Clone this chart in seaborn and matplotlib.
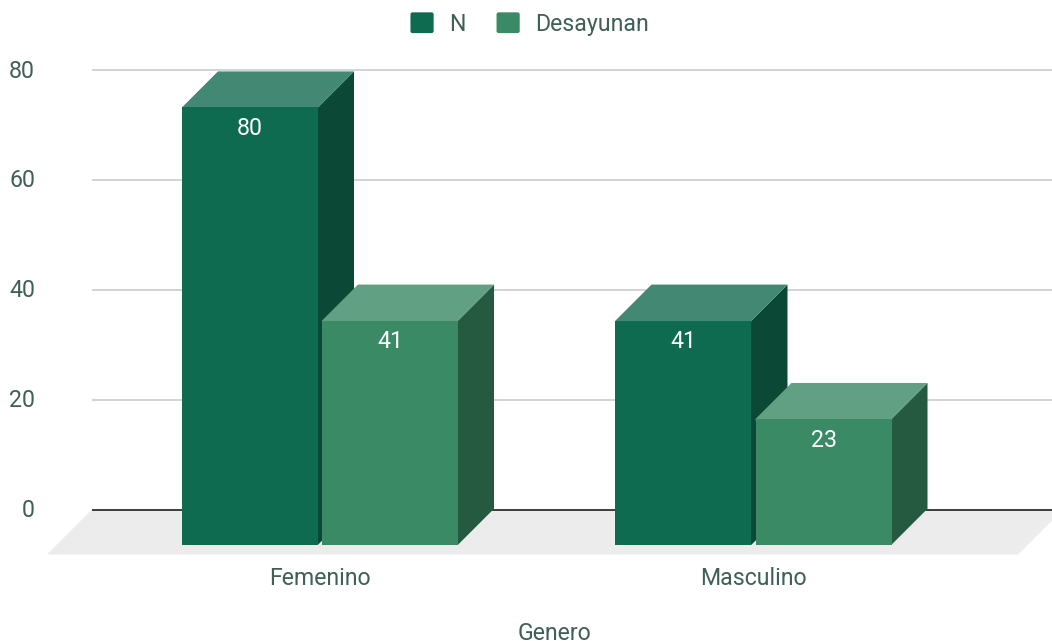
import matplotlib
matplotlib.use("Agg")
import matplotlib.pyplot as plt
import pandas as pd
import seaborn as sns
from matplotlib.legend_handler import HandlerPatch
from matplotlib.patches import FancyBboxPatch, Polygon
from matplotlib.transforms import ScaledTranslation

generos = ["Femenino", "Masculino"]
series_names = ["N", "Desayunan"]
n_values = [80, 41]
desayunan_values = [41, 23]
y_ticks = [0, 20, 40, 60, 80]
x_title = "Genero"

front_colors = ["#0F6B50", "#3A8A65"]
side_colors = ["#0B4836", "#265A40"]
top_colors = ["#428873", "#62A084"]
text_color = "#3F5F57"

W, H = 1052, 641
AX_L, AX_R, AX_T, AX_B = 92, 1052, 60, 560
Y0_PX, Y80_PX = 509.5, 70
CAT0_PX, CAT1_PX = 320, 753.5
DEPTH_PX = 36
DROP_PX = 35.2
FRONT_SCALE = 0.995
FS = 16.7

sns.set_theme(style="white")
plt.rcParams["font.family"] = ["Roboto", "DejaVu Sans"]

df = pd.DataFrame({
    "Genero": generos * 2,
    "Serie": [series_names[0]] * 2 + [series_names[1]] * 2,
    "Valor": n_values + desayunan_values,
})

fig = plt.figure(figsize=(W / 100, H / 100), dpi=100)
ax = fig.add_axes([AX_L / W, 1 - AX_B / H, (AX_R - AX_L) / W, (AX_B - AX_T) / H])

sns.barplot(
    data=df, x="Genero", y="Valor", hue="Serie", hue_order=series_names,
    palette=front_colors, width=0.646, gap=0.0286, saturation=1,
    linewidth=0, ax=ax,
)

px_per_cat = CAT1_PX - CAT0_PX
px_per_val = (Y0_PX - Y80_PX) / 80
ax.set_xlim((AX_L - CAT0_PX) / px_per_cat, (AX_R - CAT0_PX) / px_per_cat)
ax.set_ylim((Y0_PX - AX_B) / px_per_val, (Y0_PX - AX_T) / px_per_val)

dx = DEPTH_PX / px_per_cat
dy = DEPTH_PX / px_per_val
drop = DROP_PX / px_per_val
ex = 1.5 / px_per_cat
ey = 1.5 / px_per_val

for s, container in enumerate(ax.containers):
    z = 3 + s
    for bar in container:
        value = bar.get_height()
        bar.set_y(-drop)
        bar.set_height(value * FRONT_SCALE)
        bar.set_zorder(z + 0.2)
        x0, x1 = bar.get_x(), bar.get_x() + bar.get_width()
        y0, y1 = bar.get_y(), bar.get_y() + bar.get_height()
        # side and top run slightly under the front face so no seam shows
        ax.add_patch(Polygon([(x1 - ex, y0), (x1, y0), (x1 + dx, y0 + dy), (x1 + dx, y1 + dy),
                              (x1, y1), (x1 - ex, y1)],
                             closed=True, fc=side_colors[s], ec="none", zorder=z))
        ax.add_patch(Polygon([(x0, y1 - ey), (x0, y1), (x0 + dx, y1 + dy), (x1 + dx, y1 + dy),
                              (x1, y1), (x1, y1 - ey)],
                             closed=True, fc=top_colors[s], ec="none", zorder=z + 0.1))
        ax.annotate(f"{value:.0f}", xy=((x0 + x1) / 2, y1), xytext=(0, -15.2),
                    textcoords="offset points", ha="center", va="center",
                    color="white", fontsize=FS, zorder=10)

# floor and zero line
xl, xr = ax.get_xlim()
floor_dx = 45 / px_per_cat
floor_dy = 45 / px_per_val
ax.add_patch(Polygon([(xl, 0), (xr + 11 / px_per_cat, 0), (xr - 34 / px_per_cat, -floor_dy),
                      (xl - floor_dx, -floor_dy)],
                     closed=True, fc="#ECECEC", ec="none", zorder=0.4, clip_on=False))
ax.axhline(0, color="#333333", lw=1.3, zorder=1)

ax.set_yticks(y_ticks)
ax.set_axisbelow(True)
ax.grid(False)
ax.yaxis.grid(True, color="#CCCCCC", lw=1.2)
ax.tick_params(axis="y", length=0, pad=41, labelsize=FS, labelcolor=text_color)
ax.tick_params(axis="x", length=0, pad=5.3, labelsize=FS, labelcolor=text_color)
for sp in ax.spines.values():
    sp.set_visible(False)
up = ScaledTranslation(0, 1.4 / 100, fig.dpi_scale_trans)
for lab in ax.get_yticklabels():
    lab.set_transform(lab.get_transform() + up)
ax.set_ylabel("")
ax.set_xlabel(x_title, fontsize=FS, color=text_color)
ax.xaxis.set_label_coords((554.5 - AX_L) / (AX_R - AX_L), -(622 - AX_B) / (AX_B - AX_T))


class RoundHandler(HandlerPatch):
    def create_artists(self, legend, orig, xd, yd, width, height, fontsize, trans):
        p = FancyBboxPatch((-xd + 1.5, -yd + 1.5), width - 3, height - 3,
                           boxstyle="round,pad=1.5,rounding_size=1.5",
                           fc=orig.get_facecolor(), ec="none", transform=trans)
        return [p]


handles, labels = ax.get_legend_handles_labels()
leg = ax.legend(
    handles, labels, ncol=2, frameon=False, loc="center",
    bbox_to_anchor=(529.5 / W, 1 - 24 / H), bbox_transform=fig.transFigure,
    fontsize=FS, handlelength=1.0, handleheight=1.0, handletextpad=0.65,
    columnspacing=1.35, borderpad=0, borderaxespad=0,
    handler_map={handles[0]: RoundHandler(), handles[1]: RoundHandler()},
)
for t in leg.get_texts():
    t.set_color(text_color)

fig.savefig("out.png", dpi=100)
